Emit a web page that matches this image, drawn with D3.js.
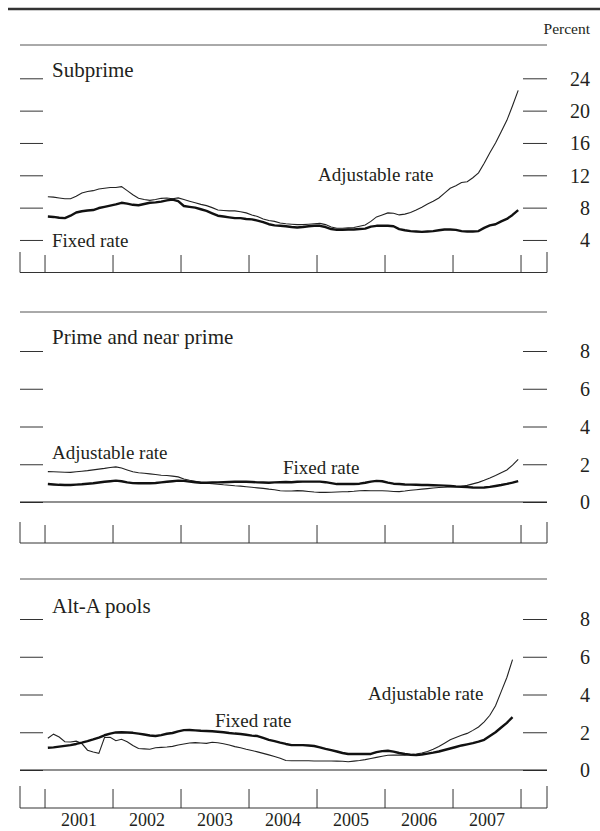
<!DOCTYPE html>
<html lang="en">
<head>
<meta charset="UTF-8">
<title>Mortgage delinquency rates</title>
<style>
  body { margin: 0; background: #fff; }
  text { font-family: "Liberation Serif", "Times New Roman", serif; fill: #231f20; }
</style>
</head>
<body>
<div id="chart"></div>
<script src="https://d3js.org/d3.v7.min.js"></script>
<script>
// monthly values, Jan 2001 onward (percent)
var subprimeAdj = [9.35,9.3,9.2,9.1,9.1,9.4,9.8,10.0,10.1,10.3,10.4,10.5,
  10.5,10.6,10.1,9.6,9.15,9.0,8.9,9.0,9.15,9.2,9.1,9.2,
  9.0,8.8,8.6,8.4,8.25,8.0,7.7,7.65,7.6,7.6,7.5,7.35,
  7.1,6.9,6.6,6.4,6.3,6.1,6.0,5.95,5.9,5.9,5.95,6.0,
  6.05,5.9,5.6,5.45,5.45,5.5,5.55,5.7,5.85,6.3,6.85,7.1,
  7.35,7.3,7.1,7.2,7.4,7.7,8.05,8.45,8.8,9.2,9.8,10.4,
  10.7,11.1,11.2,11.7,12.3,13.5,14.8,16.0,17.4,18.8,20.6,22.5];
var subprimeFixed = [6.9,6.85,6.75,6.7,7.0,7.4,7.55,7.65,7.7,7.95,8.1,8.25,
  8.4,8.6,8.5,8.35,8.3,8.45,8.6,8.65,8.75,8.9,9.0,8.8,
  8.2,8.1,8.0,7.8,7.6,7.3,7.0,6.9,6.8,6.7,6.7,6.6,
  6.55,6.4,6.2,5.95,5.8,5.75,5.7,5.6,5.55,5.6,5.7,5.75,
  5.75,5.6,5.35,5.25,5.25,5.3,5.3,5.35,5.4,5.65,5.75,5.75,
  5.75,5.7,5.35,5.2,5.1,5.05,5.0,5.05,5.1,5.2,5.3,5.3,
  5.25,5.1,5.05,5.05,5.1,5.5,5.8,5.95,6.3,6.6,7.1,7.7];
var primeAdj = [1.61,1.6,1.59,1.58,1.57,1.6,1.63,1.66,1.7,1.74,1.78,1.83,
  1.86,1.8,1.7,1.6,1.55,1.52,1.49,1.46,1.42,1.4,1.37,1.33,
  1.22,1.15,1.1,1.04,0.99,0.97,0.94,0.91,0.89,0.86,0.84,0.81,
  0.78,0.75,0.72,0.68,0.65,0.6,0.58,0.58,0.6,0.59,0.56,0.53,
  0.51,0.51,0.52,0.53,0.54,0.55,0.57,0.6,0.61,0.6,0.6,0.6,
  0.58,0.56,0.55,0.58,0.62,0.65,0.68,0.71,0.74,0.77,0.78,0.8,
  0.81,0.83,0.88,0.96,1.04,1.15,1.27,1.4,1.55,1.7,1.95,2.26];
var primeFixed = [0.95,0.93,0.91,0.9,0.9,0.92,0.94,0.97,0.99,1.03,1.07,1.1,
  1.13,1.1,1.04,1.0,0.99,0.99,0.99,1.01,1.04,1.07,1.1,1.13,
  1.12,1.08,1.05,1.02,1.02,1.03,1.04,1.05,1.06,1.07,1.08,1.07,
  1.06,1.04,1.03,1.02,1.04,1.05,1.06,1.05,1.07,1.08,1.08,1.08,
  1.08,1.05,1.0,0.95,0.95,0.95,0.95,0.97,1.02,1.08,1.12,1.1,
  1.03,0.97,0.95,0.93,0.92,0.91,0.9,0.9,0.89,0.88,0.87,0.85,
  0.82,0.81,0.79,0.77,0.76,0.77,0.8,0.85,0.9,0.96,1.03,1.11];
var altAAdj = [1.68,1.9,1.75,1.5,1.48,1.53,1.4,1.05,0.95,0.88,1.72,1.73,
  1.55,1.63,1.5,1.3,1.14,1.12,1.1,1.18,1.2,1.22,1.25,1.32,
  1.38,1.43,1.45,1.43,1.41,1.47,1.44,1.39,1.32,1.24,1.18,1.1,
  1.03,0.96,0.88,0.8,0.72,0.62,0.5,0.49,0.49,0.49,0.49,0.48,
  0.48,0.48,0.48,0.47,0.46,0.44,0.47,0.5,0.55,0.61,0.67,0.73,
  0.78,0.79,0.79,0.79,0.82,0.85,0.9,0.98,1.1,1.24,1.42,1.6,
  1.72,1.84,1.94,2.1,2.28,2.55,2.9,3.4,4.15,4.9,5.85];
var altAFixed = [1.18,1.2,1.24,1.28,1.32,1.38,1.45,1.53,1.62,1.72,1.84,1.93,
  1.99,2.0,1.99,1.97,1.93,1.88,1.83,1.8,1.85,1.92,1.96,2.05,
  2.11,2.12,2.1,2.08,2.07,2.05,2.03,2.0,1.96,1.93,1.91,1.87,
  1.82,1.8,1.7,1.6,1.53,1.45,1.38,1.32,1.32,1.32,1.3,1.27,
  1.2,1.12,1.05,0.98,0.9,0.85,0.85,0.85,0.85,0.85,0.95,1.0,
  1.02,0.97,0.9,0.85,0.81,0.79,0.82,0.87,0.92,0.98,1.06,1.14,
  1.22,1.3,1.36,1.42,1.5,1.6,1.8,2.0,2.25,2.5,2.8];

var years = [2001, 2002, 2003, 2004, 2005, 2006, 2007];
var yearEdges = [2001, 2002, 2003, 2004, 2005, 2006, 2007, 2008];
var subprimeTicks = [4, 8, 12, 16, 20, 24];
var smallTicks = [0, 2, 4, 6, 8];

var W = 600, H = 831;
var svg = d3.select("#chart").append("svg")
    .attr("width", W).attr("height", H);

var left = 20, right = 547;
var x = d3.scaleLinear().domain([2000.632, 2008.382]).range([left, right]);
function monthX(i) { return x(2001 + (i + 0.5) / 12); }

// heavy rule on top
svg.append("line")
    .attr("x1", 8).attr("x2", W).attr("y1", 9).attr("y2", 9)
    .attr("stroke", "#333").attr("stroke-width", 2.5);

svg.append("text")
    .attr("x", 590).attr("y", 34)
    .attr("text-anchor", "end")
    .style("font-size", "15.5px")
    .text("Percent");

var panels = [
  { title: "Subprime", top: 45, y0: 272.3, y1: 78.3, max: 24, ticks: subprimeTicks, zero: false,
    axisTop: 255, axisBottom: 272.5, titleY: 76.5,
    adj: subprimeAdj, fixed: subprimeFixed,
    labels: [{ t: "Fixed rate", x: 52, y: 246.5 }, { t: "Adjustable rate", x: 318, y: 181 }] },
  { title: "Prime and near prime", top: 312, y0: 502, y1: 351, max: 8, ticks: smallTicks, zero: true,
    axisTop: 525, axisBottom: 543, titleY: 344,
    adj: primeAdj, fixed: primeFixed,
    labels: [{ t: "Adjustable rate", x: 52, y: 459 }, { t: "Fixed rate", x: 283, y: 474 }] },
  { title: "Alt-A pools", top: 579, y0: 770, y1: 619, max: 8, ticks: smallTicks, zero: true,
    axisTop: 789, axisBottom: 808, titleY: 613,
    adj: altAAdj, fixed: altAFixed,
    labels: [{ t: "Fixed rate", x: 215, y: 726.5 }, { t: "Adjustable rate", x: 368, y: 700 }] }
];

panels.forEach(function (p, k) {
  var g = svg.append("g");
  var y = d3.scaleLinear().domain([0, p.max]).range([p.y0, p.y1]);

  // rule over the panel
  g.append("line")
      .attr("x1", left).attr("x2", right).attr("y1", p.top).attr("y2", p.top)
      .attr("stroke", "#555").attr("stroke-width", 1);

  // left ticks
  var la = g.append("g").attr("transform", "translate(" + 43 + ",0)")
      .call(d3.axisLeft(y).tickValues(p.ticks).tickSize(23).tickFormat(""));
  la.select(".domain").remove();

  // right ticks with labels
  var ra = g.append("g").attr("transform", "translate(" + 523 + ",0)")
      .call(d3.axisRight(y).tickValues(p.ticks).tickSize(24));
  ra.select(".domain").remove();
  ra.selectAll("text")
      .attr("x", 67).attr("dy", "0.34em")
      .attr("text-anchor", "end")
      .style("font-size", "20px")
      .style("font-family", "'Liberation Serif', 'Times New Roman', serif")
      .attr("fill", "#231f20");
  g.selectAll(".tick line").attr("stroke", "#333").attr("stroke-width", 1);

  if (p.zero) {
    g.append("line")
        .attr("x1", left).attr("x2", right).attr("y1", y(0)).attr("y2", y(0))
        .attr("stroke", "#222").attr("stroke-width", 1.2);
  }

  // year boundary ticks and base line
  g.append("line")
      .attr("x1", left).attr("x2", right).attr("y1", p.axisBottom).attr("y2", p.axisBottom)
      .attr("stroke", "#333").attr("stroke-width", 1);
  g.selectAll(".yr")
      .data([2000.632].concat(yearEdges, [2008.382]))
      .enter().append("line")
      .attr("x1", function (d) { return x(d); })
      .attr("x2", function (d) { return x(d); })
      .attr("y1", function (d, i) { return (i === 0 || i === 9) ? p.axisTop - 3 : p.axisTop; })
      .attr("y2", p.axisBottom)
      .attr("stroke", "#333").attr("stroke-width", 1);

  // series
  var line = d3.line()
      .x(function (d, i) { return monthX(i); })
      .y(function (d) { return y(d); });
  g.append("path").datum(p.adj)
      .attr("d", line).attr("fill", "none")
      .attr("stroke", "#222").attr("stroke-width", 1.1);
  g.append("path").datum(p.fixed)
      .attr("d", line).attr("fill", "none")
      .attr("stroke", "#111").attr("stroke-width", 2.4)
      .attr("stroke-linejoin", "round");

  g.append("text")
      .attr("x", 52).attr("y", p.titleY)
      .style("font-size", "21px")
      .text(p.title);

  g.selectAll(".lbl")
      .data(p.labels)
      .enter().append("text")
      .attr("x", function (d) { return d.x; })
      .attr("y", function (d) { return d.y; })
      .style("font-size", "19px")
      .text(function (d) { return d.t; });

  if (k === panels.length - 1) {
    g.selectAll(".yl")
        .data(years)
        .enter().append("text")
        .attr("x", function (d) { return x(d + 0.5); })
        .attr("y", 826)
        .attr("text-anchor", "middle")
        .style("font-size", "18px")
        .text(function (d) { return d; });
  }
});
</script>
</body>
</html>
